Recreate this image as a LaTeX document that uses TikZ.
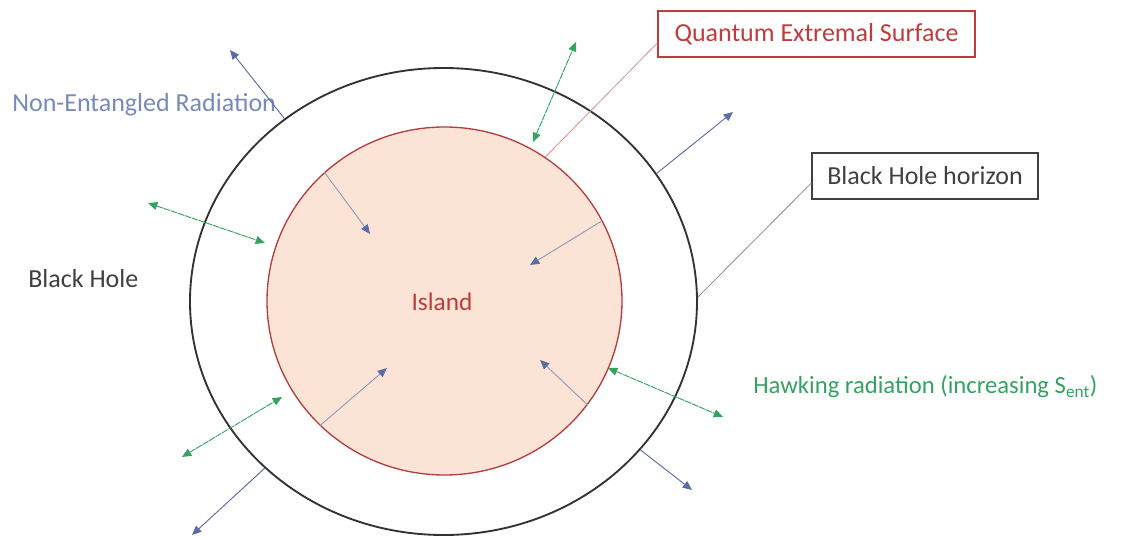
\documentclass[tikz,border=0pt]{standalone}
\usepackage{fontspec}
\setmainfont{Carlito}
\usepackage{xcolor}
\usetikzlibrary{shapes.geometric, arrows.meta, positioning}

\definecolor{islandfill}{RGB}{251,227,214}
\definecolor{islandedge}{RGB}{180,62,62}
\definecolor{islandred}{RGB}{192,60,60}
\definecolor{qesline}{RGB}{222,140,140}
\definecolor{nonent}{RGB}{120,138,186}
\definecolor{rayblue}{RGB}{92,108,166}
\definecolor{raygray}{RGB}{150,155,180}
\definecolor{hawkgreen}{RGB}{52,162,96}
\definecolor{bhgray}{RGB}{64,64,64}

\begin{document}
\begin{tikzpicture}[x=0.75pt, y=-0.75pt,
    plaintext/.style={inner sep=0pt, anchor=west, font=\fontsize{19.5}{22}\selectfont},
    tagbox/.style={rectangle, draw, line width=1pt, minimum height=34.5pt, inner sep=0pt, font=\fontsize{19.5}{22}\selectfont},
    outray/.style={draw=rayblue, line width=0.7pt, -{Triangle[length=7pt, width=6pt]}},
    inray/.style={draw=raygray, line width=0.7pt, -{Triangle[length=7pt, width=6pt, color=rayblue]}},
    hawking/.style={draw=hawkgreen, line width=0.7pt, dash pattern=on 5pt off 0.6pt, {Triangle[length=7pt, width=6pt]}-{Triangle[length=7pt, width=6pt]}},
    leader/.style={draw, line width=0.6pt}]

    \useasboundingbox (0,0) rectangle (1127,538);

    \node [ellipse, draw=islandedge, fill=islandfill, line width=1pt, minimum width=266.25pt, minimum height=261pt, inner sep=0pt] (island) at (444.5,301) {};
    \node [ellipse, draw=black!80, line width=1.4pt, minimum width=380.25pt, minimum height=350.25pt, inner sep=0pt] (horizon) at (443.5,301.5) {};

    \node [plaintext, text=nonent] (nonentname) at (12,105) {Non-Entangled Radiation};
    \node [plaintext, text=bhgray] (bhname) at (28,279) {Black Hole};
    \node [plaintext, text=islandred, anchor=center, font=\fontsize{19}{22}\selectfont] (islandname) at (442,302) {Island};
    \node [plaintext, text=hawkgreen, font=\fontsize{18.5}{22}\selectfont] (hawkname) at (753,387) {Hawking radiation (increasing S\textsubscript{ent})};
    \node [tagbox, draw=islandred, text=islandred, minimum width=237.75pt] (qes) at (816.5,34) {Quantum Extremal Surface};
    \node [tagbox, draw=bhgray, text=bhgray, minimum width=169.5pt] (bhbox) at (925,176) {Black Hole horizon};

    \path [leader, draw=qesline] ([yshift=-6.75pt]qes.west) -- (island.55.8);
    \path [leader, draw=black!45] ([yshift=-5.25pt]bhbox.west) -- (horizon.1);

    \coordinate (out1) at (230,50);
    \coordinate (out2) at (733,112);
    \coordinate (out3) at (692,490);
    \coordinate (out4) at (192,535);
    \path [outray] (horizon.131.3) -- (out1);
    \path [outray] (horizon.31.2) -- (out2);
    \path [outray] (horizon.-37.1) -- (out3);
    \path [outray] (horizon.-137) -- (out4);

    \coordinate (in1) at (370,234);
    \coordinate (in2) at (530,265);
    \coordinate (in3) at (387,368);
    \coordinate (in4) at (540,360);
    \path [inray] (island.133.5) -- (in1);
    \path [inray] (island.27.4) -- (in2);
    \path [inray] (island.-135.6) -- (in3);
    \path [inray] (island.-36) -- (in4);

    \coordinate (hk1a) at (533,142);
    \coordinate (hk1b) at (576,42);
    \coordinate (hk2a) at (148,203);
    \coordinate (hk2b) at (265,243);
    \coordinate (hk3a) at (182,457);
    \coordinate (hk3b) at (282,397);
    \coordinate (hk4a) at (608,368);
    \coordinate (hk4b) at (723,417);
    \path [hawking] (hk1a) -- (hk1b);
    \path [hawking] (hk2a) -- (hk2b);
    \path [hawking] (hk3a) -- (hk3b);
    \path [hawking] (hk4a) -- (hk4b);

\end{tikzpicture}
\end{document}
